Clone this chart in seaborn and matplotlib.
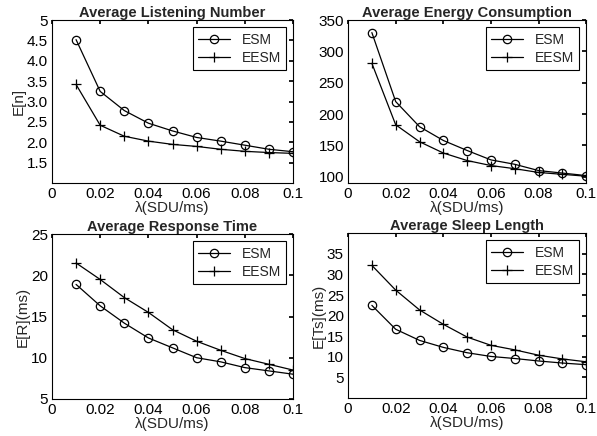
import numpy as np
import pandas as pd
import matplotlib
matplotlib.use("Agg")
import matplotlib.pyplot as plt
import seaborn as sns

lam = [0.01, 0.02, 0.03, 0.04, 0.05, 0.06, 0.07, 0.08, 0.09, 0.1]

listen_esm = [4.52, 3.25, 2.78, 2.47, 2.28, 2.12, 2.03, 1.93, 1.83, 1.77]
listen_eesm = [3.42, 2.42, 2.15, 2.03, 1.95, 1.90, 1.83, 1.78, 1.75, 1.73]

energy_esm = [330, 220, 180, 158, 142, 127, 120, 110, 106, 102]
energy_eesm = [281, 183, 156, 138, 126, 118, 113, 107, 104, 101]

resp_esm = [18.9, 16.3, 14.2, 12.4, 11.2, 10.0, 9.5, 8.8, 8.4, 8.0]
resp_eesm = [21.5, 19.5, 17.3, 15.5, 13.4, 12.0, 10.9, 9.9, 9.2, 8.5]

sleep_esm = [22.5, 16.7, 14.0, 12.3, 11.0, 10.1, 9.6, 9.0, 8.5, 8.1]
sleep_eesm = [32.2, 26.2, 21.4, 17.9, 14.8, 12.8, 11.7, 10.4, 9.5, 8.8]

xticks = [0, 0.02, 0.04, 0.06, 0.08, 0.1]
xticklabels = ["0", "0.02", "0.04", "0.06", "0.08", "0.1"]

panels = [
    ("Average Listening Number", "E[n]", listen_esm, listen_eesm, (1, 5),
     [1.5, 2.0, 2.5, 3.0, 3.5, 4.0, 4.5, 5],
     ["1.5", "2.0", "2.5", "3.0", "3.5", "4.0", "4.5", "5"]),
    ("Average Energy Consumption", "", energy_esm, energy_eesm, (90, 350),
     [100, 150, 200, 250, 300, 350],
     ["100", "150", "200", "250", "300", "350"]),
    ("Average Response Time", "E[R](ms)", resp_esm, resp_eesm, (5, 25),
     [5, 10, 15, 20, 25], ["5", "10", "15", "20", "25"]),
    ("Average Sleep Length", "E[Ts](ms)", sleep_esm, sleep_eesm, (0, 40),
     [5, 10, 15, 20, 25, 30, 35], ["5", "10", "15", "20", "25", "30", "35"]),
]

sns.set_theme(style="white")
plt.rcParams['font.family'] = ['Liberation Sans', 'DejaVu Sans']

fig = plt.figure(figsize=(5.97, 4.36), dpi=100)
rects = [
    [0.087, 0.580, 0.404, 0.374],
    [0.583, 0.580, 0.399, 0.374],
    [0.087, 0.085, 0.404, 0.378],
    [0.583, 0.087, 0.399, 0.378],
]

for rect, (title, ylab, esm, eesm, ylim, yt, ytl) in zip(rects, panels):
    ax = fig.add_axes(rect)
    df = pd.DataFrame({"lam": lam, "ESM": esm, "EESM": eesm})
    sns.lineplot(data=df, x="lam", y="ESM", ax=ax, color="black", lw=0.9,
                 marker="o", markersize=6, markerfacecolor="none",
                 markeredgecolor="black", markeredgewidth=0.9, label="ESM")
    sns.lineplot(data=df, x="lam", y="EESM", ax=ax, color="black", lw=0.9,
                 marker="+", markersize=7, markeredgecolor="black",
                 markeredgewidth=0.9, label="EESM")
    ax.set_xlim(0, 0.1)
    ax.set_ylim(*ylim)
    ax.set_xticks(xticks)
    ax.set_xticklabels(xticklabels)
    ax.set_yticks(yt)
    ax.set_yticklabels(ytl)
    ax.tick_params(direction="in", top=True, right=True, length=3,
                   labelsize=11, colors="black", pad=3)
    for sp in ax.spines.values():
        sp.set_color("black")
        sp.set_linewidth(0.8)
    ax.set_title(title, fontsize=10.5, fontweight="bold", pad=2)
    ax.set_xlabel("λ(SDU/ms)", fontsize=11, labelpad=0)
    ax.set_ylabel(ylab, fontsize=11, labelpad=1)
    leg = ax.legend(loc="upper right", fontsize=10, frameon=True,
                    fancybox=False, edgecolor="black", framealpha=1,
                    handlelength=2.3, borderaxespad=0.5, borderpad=0.4,
                    labelspacing=0.3)
    leg.get_frame().set_linewidth(0.8)

fig.savefig("out.png", dpi=100)
